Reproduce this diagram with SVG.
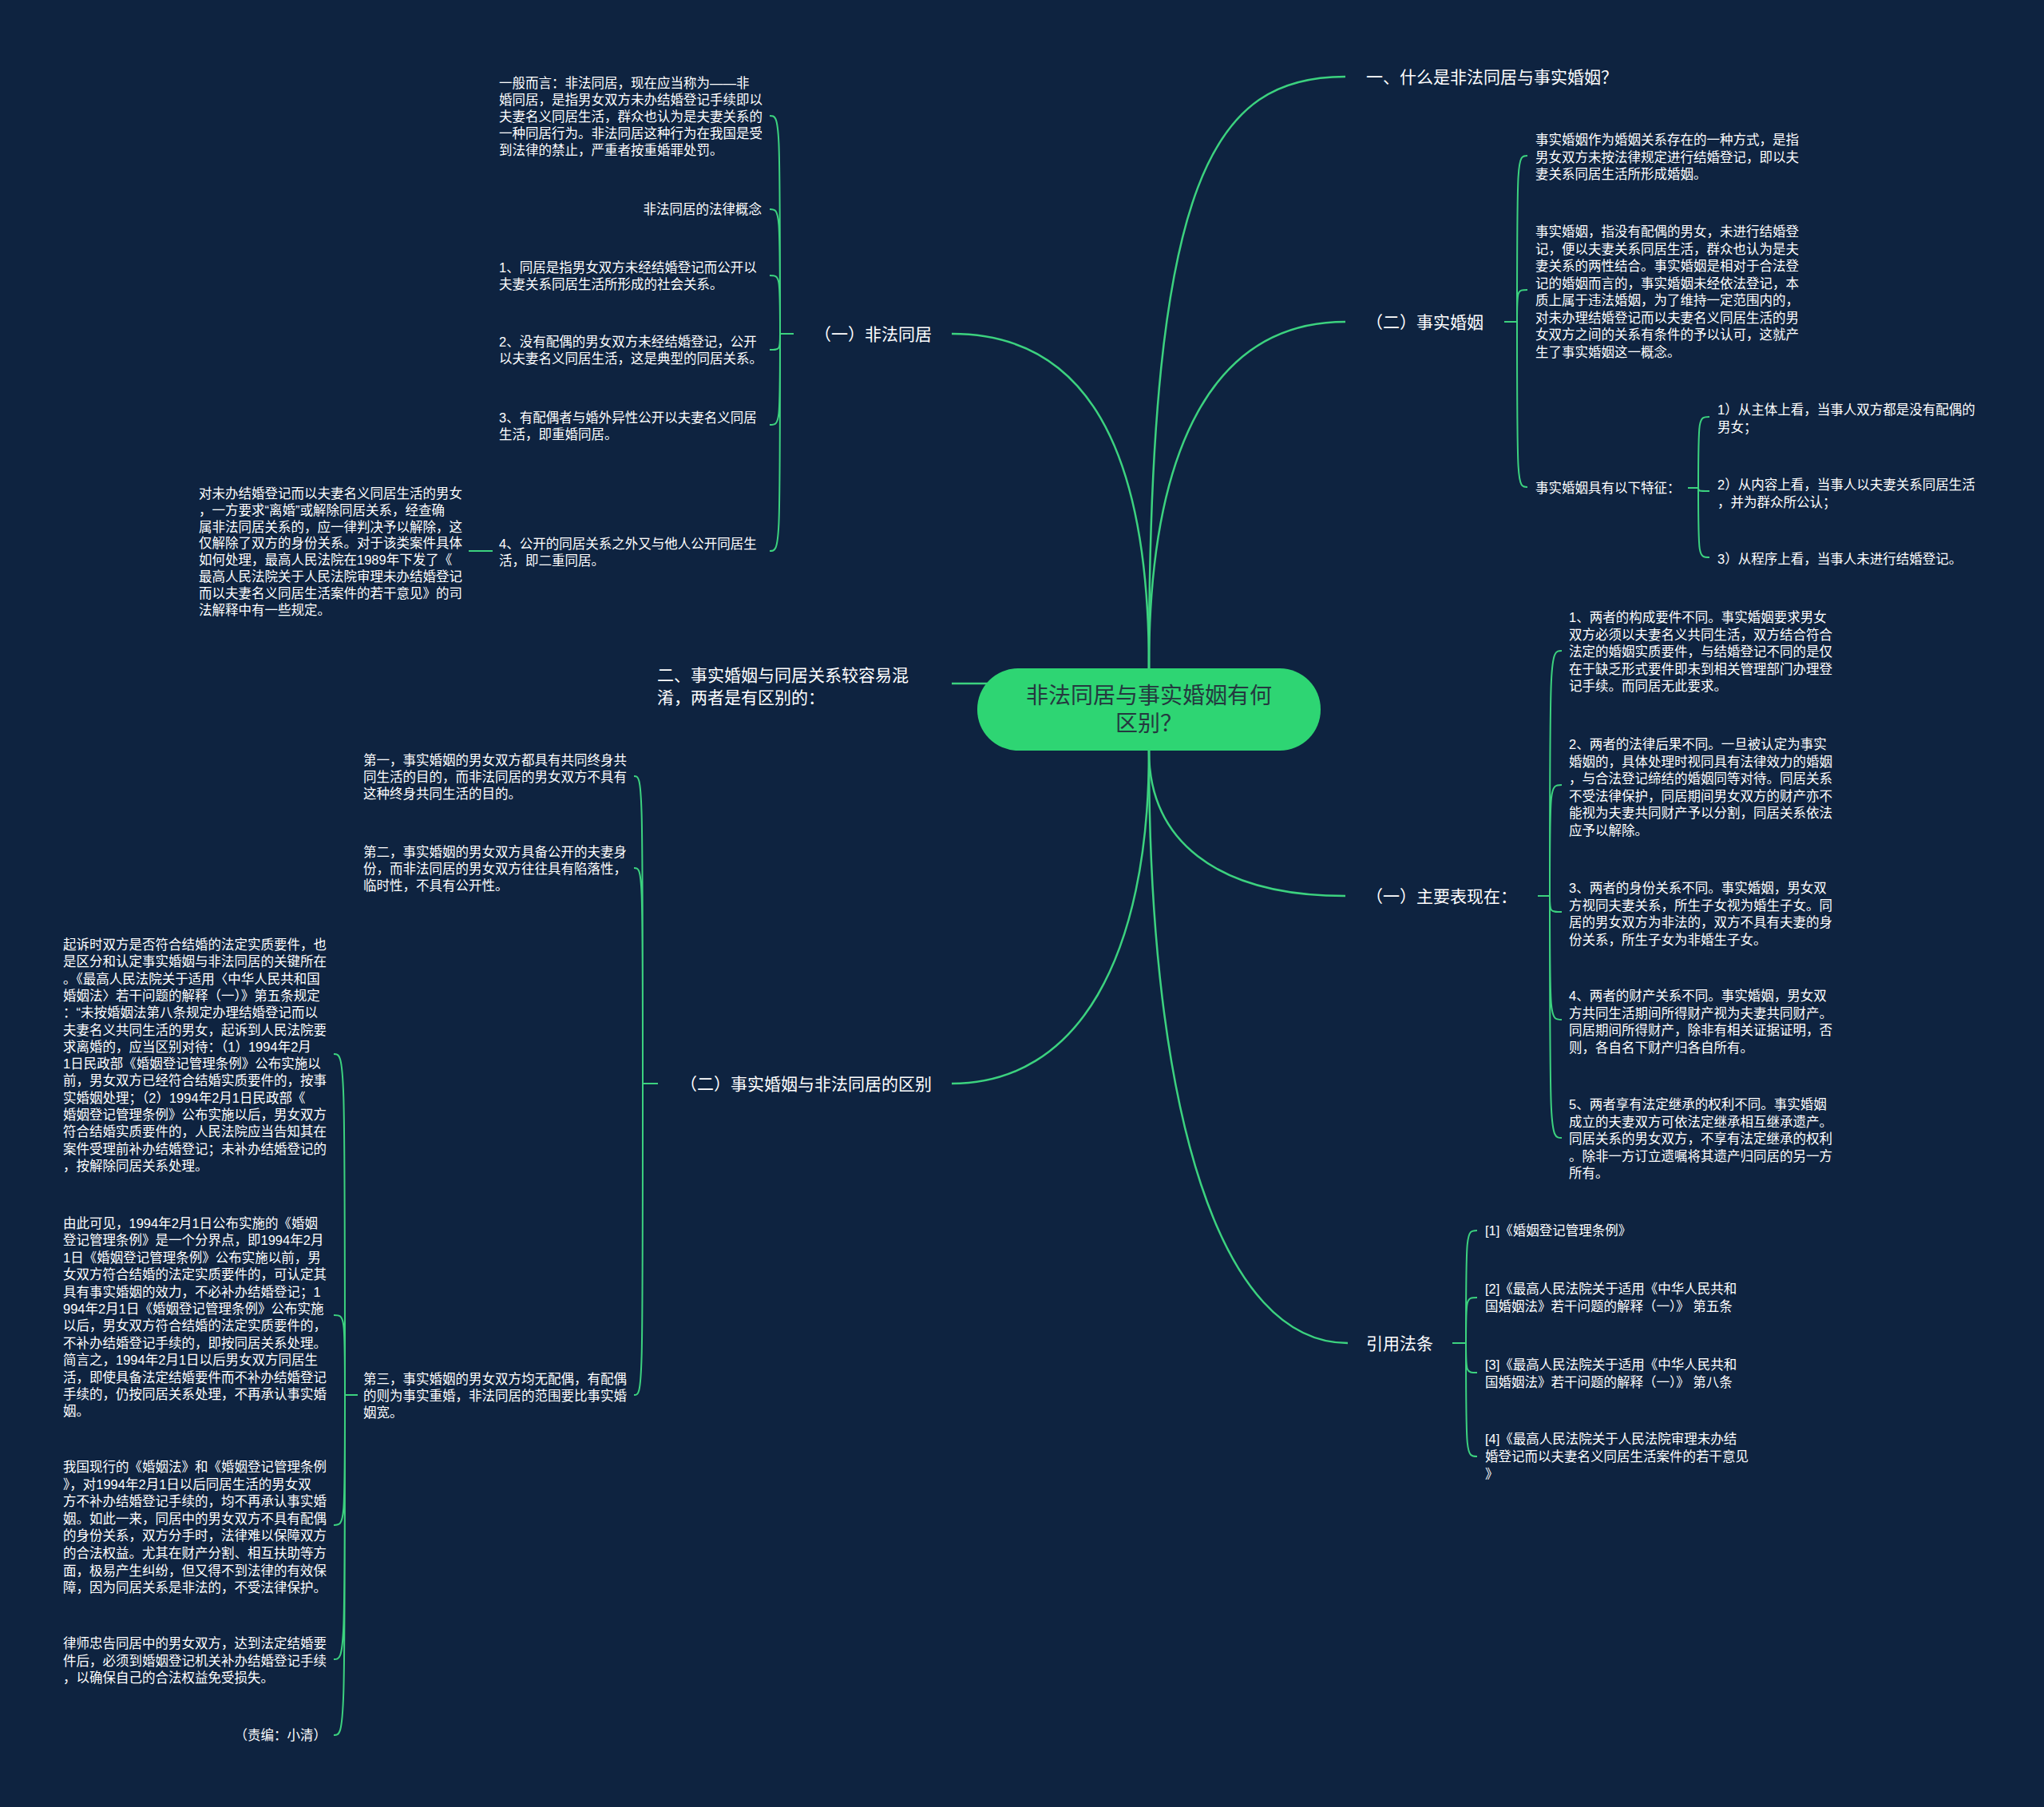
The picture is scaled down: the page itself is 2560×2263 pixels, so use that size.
<svg xmlns="http://www.w3.org/2000/svg" width="2560" height="2263" viewBox="0 0 2560 2263">
<style>
.t{font-family:"Liberation Sans","Noto Sans CJK SC",sans-serif;font-size:16.5px;fill:#ffffff}
.m{font-size:21px}
.c{font-family:"Liberation Sans","Noto Sans CJK SC",sans-serif;font-size:28px;fill:#24393f}
.ln{fill:none;stroke:#3cd27f;stroke-width:2}
.mn{fill:none;stroke:#3cd27f;stroke-width:2.5}
</style>
<rect width="2560" height="2263" fill="#0e2340"/>
<g id="connectors">
<path class="mn" d="M1439 837C1439 220 1520 96 1685 96"/>
<path class="mn" d="M1439 837C1439 560 1520 403 1685 403"/>
<path class="mn" d="M1439 837C1439 560 1360 418 1192 418"/>
<path class="mn" d="M1260 856H1192"/>
<path class="mn" d="M1439 940C1439 1050 1520 1122 1685 1122"/>
<path class="mn" d="M1439 940C1439 1400 1530 1682 1688 1682"/>
<path class="mn" d="M1439 940C1439 1200 1350 1357 1192 1357"/>
<path class="ln" d="M1884 403H1900M1900 403C1900 195 1900 195 1913 195M1900 403C1900 363 1900 363 1913 363M1900 403C1900 610 1900 610 1913 610"/>
<path class="ln" d="M2114 611H2127M2127 611C2127 522 2127 522 2141 522M2127 611C2127 615 2127 615 2141 615M2127 611C2127 698 2127 698 2141 698"/>
<path class="ln" d="M1926 1122H1941M1941 1122C1941 815 1941 815 1956 815M1941 1122C1941 983 1941 983 1956 983M1941 1122C1941 1142 1941 1142 1956 1142M1941 1122C1941 1277 1941 1277 1956 1277M1941 1122C1941 1425 1941 1425 1956 1425"/>
<path class="ln" d="M1819 1682H1836M1836 1682C1836 1541 1836 1541 1850 1541M1836 1682C1836 1625 1836 1625 1850 1625M1836 1682C1836 1719 1836 1719 1850 1719M1836 1682C1836 1824 1836 1824 1850 1824"/>
<path class="ln" d="M994 418H977M977 418C977 145 977 145 964 145M977 418C977 262 977 262 964 262M977 418C977 345 977 345 964 345M977 418C977 438 977 438 964 438M977 418C977 532 977 532 964 532M977 418C977 690 977 690 964 690"/>
<path class="ln" d="M617 690H587"/>
<path class="ln" d="M824 1357H805M805 1357C805 972 805 972 794 972M805 1357C805 1087 805 1087 794 1087M805 1357C805 1747 805 1747 794 1747"/>
<path class="ln" d="M448 1747H432M432 1747C432 1320 432 1320 418 1320M432 1747C432 1647 432 1647 418 1647M432 1747C432 1910 432 1910 418 1910M432 1747C432 2078 432 2078 418 2078M432 1747C432 2173 432 2173 418 2173"/>
</g>
<g id="center">
<rect x="1224" y="837" width="430" height="103" rx="51" fill="#2ed573"/>
<text class="c" text-anchor="middle"><tspan x="1439" y="881">非法同居与事实婚姻有何</tspan><tspan x="1439" y="916">区别？</tspan></text>
</g>
<g id="n-what"><text class="t m" x="1711" y="104">一、什么是非法同居与事实婚姻？</text></g>
<g id="n-shishi"><text class="t m" x="1711" y="411">（二）事实婚姻</text></g>
<g id="n-shishi-a"><text class="t"><tspan x="1923" y="181">事实婚姻作为婚姻关系存在的一种方式，是指</tspan><tspan x="1923" dy="21.5">男女双方未按法律规定进行结婚登记，即以夫</tspan><tspan x="1923" dy="21.5">妻关系同居生活所形成婚姻。</tspan></text></g>
<g id="n-shishi-b"><text class="t"><tspan x="1923" y="296">事实婚姻，指没有配偶的男女，未进行结婚登</tspan><tspan x="1923" dy="21.5">记，便以夫妻关系同居生活，群众也认为是夫</tspan><tspan x="1923" dy="21.5">妻关系的两性结合。事实婚姻是相对于合法登</tspan><tspan x="1923" dy="21.5">记的婚姻而言的，事实婚姻未经依法登记，本</tspan><tspan x="1923" dy="21.5">质上属于违法婚姻，为了维持一定范围内的，</tspan><tspan x="1923" dy="21.5">对未办理结婚登记而以夫妻名义同居生活的男</tspan><tspan x="1923" dy="21.5">女双方之间的关系有条件的予以认可，这就产</tspan><tspan x="1923" dy="21.5">生了事实婚姻这一概念。</tspan></text></g>
<g id="n-shishi-c"><text class="t" x="1923" y="617">事实婚姻具有以下特征：</text></g>
<g id="n-feat1"><text class="t"><tspan x="2151" y="519">1）从主体上看，当事人双方都是没有配偶的</tspan><tspan x="2151" dy="21.5">男女；</tspan></text></g>
<g id="n-feat2"><text class="t"><tspan x="2151" y="613">2）从内容上看，当事人以夫妻关系同居生活</tspan><tspan x="2151" dy="21.5">，并为群众所公认；</tspan></text></g>
<g id="n-feat3"><text class="t" x="2151" y="706">3）从程序上看，当事人未进行结婚登记。</text></g>
<g id="n-biaoxian"><text class="t m" x="1711" y="1130">（一）主要表现在：</text></g>
<g id="n-bx1"><text class="t"><tspan x="1965" y="779">1、两者的构成要件不同。事实婚姻要求男女</tspan><tspan x="1965" dy="21.5">双方必须以夫妻名义共同生活，双方结合符合</tspan><tspan x="1965" dy="21.5">法定的婚姻实质要件，与结婚登记不同的是仅</tspan><tspan x="1965" dy="21.5">在于缺乏形式要件即未到相关管理部门办理登</tspan><tspan x="1965" dy="21.5">记手续。而同居无此要求。</tspan></text></g>
<g id="n-bx2"><text class="t"><tspan x="1965" y="938">2、两者的法律后果不同。一旦被认定为事实</tspan><tspan x="1965" dy="21.5">婚姻的，具体处理时视同具有法律效力的婚姻</tspan><tspan x="1965" dy="21.5">，与合法登记缔结的婚姻同等对待。同居关系</tspan><tspan x="1965" dy="21.5">不受法律保护，同居期间男女双方的财产亦不</tspan><tspan x="1965" dy="21.5">能视为夫妻共同财产予以分割，同居关系依法</tspan><tspan x="1965" dy="21.5">应予以解除。</tspan></text></g>
<g id="n-bx3"><text class="t"><tspan x="1965" y="1118">3、两者的身份关系不同。事实婚姻，男女双</tspan><tspan x="1965" dy="21.5">方视同夫妻关系，所生子女视为婚生子女。同</tspan><tspan x="1965" dy="21.5">居的男女双方为非法的，双方不具有夫妻的身</tspan><tspan x="1965" dy="21.5">份关系，所生子女为非婚生子女。</tspan></text></g>
<g id="n-bx4"><text class="t"><tspan x="1965" y="1253">4、两者的财产关系不同。事实婚姻，男女双</tspan><tspan x="1965" dy="21.5">方共同生活期间所得财产视为夫妻共同财产。</tspan><tspan x="1965" dy="21.5">同居期间所得财产，除非有相关证据证明，否</tspan><tspan x="1965" dy="21.5">则，各自名下财产归各自所有。</tspan></text></g>
<g id="n-bx5"><text class="t"><tspan x="1965" y="1389">5、两者享有法定继承的权利不同。事实婚姻</tspan><tspan x="1965" dy="21.5">成立的夫妻双方可依法定继承相互继承遗产。</tspan><tspan x="1965" dy="21.5">同居关系的男女双方，不享有法定继承的权利</tspan><tspan x="1965" dy="21.5">。除非一方订立遗嘱将其遗产归同居的另一方</tspan><tspan x="1965" dy="21.5">所有。</tspan></text></g>
<g id="n-law"><text class="t m" x="1711" y="1690">引用法条</text></g>
<g id="n-law1"><text class="t" x="1860" y="1547">[1]《婚姻登记管理条例》</text></g>
<g id="n-law2"><text class="t"><tspan x="1860" y="1620">[2]《最高人民法院关于适用《中华人民共和</tspan><tspan x="1860" dy="22">国婚姻法》若干问题的解释（一）》 第五条</tspan></text></g>
<g id="n-law3"><text class="t"><tspan x="1860" y="1715">[3]《最高人民法院关于适用《中华人民共和</tspan><tspan x="1860" dy="22">国婚姻法》若干问题的解释（一）》 第八条</tspan></text></g>
<g id="n-law4"><text class="t"><tspan x="1860" y="1808">[4]《最高人民法院关于人民法院审理未办结</tspan><tspan x="1860" dy="22">婚登记而以夫妻名义同居生活案件的若干意见</tspan><tspan x="1860" dy="22">》</tspan></text></g>
<g id="n-feifa"><text class="t m" x="1167" y="426" text-anchor="end">（一）非法同居</text></g>
<g id="n-feifa-a"><text class="t"><tspan x="625" y="110">一般而言：非法同居，现在应当称为——非</tspan><tspan x="625" dy="21">婚同居，是指男女双方未办结婚登记手续即以</tspan><tspan x="625" dy="21">夫妻名义同居生活，群众也认为是夫妻关系的</tspan><tspan x="625" dy="21">一种同居行为。非法同居这种行为在我国是受</tspan><tspan x="625" dy="21">到法律的禁止，严重者按重婚罪处罚。</tspan></text></g>
<g id="n-feifa-b"><text class="t" x="954" y="268" text-anchor="end">非法同居的法律概念</text></g>
<g id="n-feifa-1"><text class="t"><tspan x="625" y="341">1、同居是指男女双方未经结婚登记而公开以</tspan><tspan x="625" dy="21">夫妻关系同居生活所形成的社会关系。</tspan></text></g>
<g id="n-feifa-2"><text class="t"><tspan x="625" y="434">2、没有配偶的男女双方未经结婚登记，公开</tspan><tspan x="625" dy="21">以夫妻名义同居生活，这是典型的同居关系。</tspan></text></g>
<g id="n-feifa-3"><text class="t"><tspan x="625" y="529">3、有配偶者与婚外异性公开以夫妻名义同居</tspan><tspan x="625" dy="21">生活，即重婚同居。</tspan></text></g>
<g id="n-feifa-4"><text class="t"><tspan x="625" y="687">4、公开的同居关系之外又与他人公开同居生</tspan><tspan x="625" dy="21">活，即二重同居。</tspan></text></g>
<g id="n-feifa-4a"><text class="t"><tspan x="249" y="624">对未办结婚登记而以夫妻名义同居生活的男女</tspan><tspan x="249" dy="20.8">，一方要求“离婚”或解除同居关系，经查确</tspan><tspan x="249" dy="20.8">属非法同居关系的，应一律判决予以解除，这</tspan><tspan x="249" dy="20.8">仅解除了双方的身份关系。对于该类案件具体</tspan><tspan x="249" dy="20.8">如何处理，最高人民法院在1989年下发了《</tspan><tspan x="249" dy="20.8">最高人民法院关于人民法院审理未办结婚登记</tspan><tspan x="249" dy="20.8">而以夫妻名义同居生活案件的若干意见》的司</tspan><tspan x="249" dy="20.8">法解释中有一些规定。</tspan></text></g>
<g id="n-hunxiao"><text class="t m"><tspan x="823" y="853">二、事实婚姻与同居关系较容易混</tspan><tspan x="823" dy="28">淆，两者是有区别的：</tspan></text></g>
<g id="n-qubie"><text class="t m" x="1167" y="1365" text-anchor="end">（二）事实婚姻与非法同居的区别</text></g>
<g id="n-qb1"><text class="t"><tspan x="455" y="958">第一，事实婚姻的男女双方都具有共同终身共</tspan><tspan x="455" dy="21">同生活的目的，而非法同居的男女双方不具有</tspan><tspan x="455" dy="21">这种终身共同生活的目的。</tspan></text></g>
<g id="n-qb2"><text class="t"><tspan x="455" y="1073">第二，事实婚姻的男女双方具备公开的夫妻身</tspan><tspan x="455" dy="21">份，而非法同居的男女双方往往具有陷落性，</tspan><tspan x="455" dy="21">临时性，不具有公开性。</tspan></text></g>
<g id="n-qb3"><text class="t"><tspan x="455" y="1733">第三，事实婚姻的男女双方均无配偶，有配偶</tspan><tspan x="455" dy="21">的则为事实重婚，非法同居的范围要比事实婚</tspan><tspan x="455" dy="21">姻宽。</tspan></text></g>
<g id="n-f1"><text class="t"><tspan x="79" y="1189">起诉时双方是否符合结婚的法定实质要件，也</tspan><tspan x="79" dy="21.3">是区分和认定事实婚姻与非法同居的关键所在</tspan><tspan x="79" dy="21.3">。《最高人民法院关于适用〈中华人民共和国</tspan><tspan x="79" dy="21.3">婚姻法〉若干问题的解释（一）》第五条规定</tspan><tspan x="79" dy="21.3">：“未按婚姻法第八条规定办理结婚登记而以</tspan><tspan x="79" dy="21.3">夫妻名义共同生活的男女，起诉到人民法院要</tspan><tspan x="79" dy="21.3">求离婚的，应当区别对待：（1）1994年2月</tspan><tspan x="79" dy="21.3">1日民政部《婚姻登记管理条例》公布实施以</tspan><tspan x="79" dy="21.3">前，男女双方已经符合结婚实质要件的，按事</tspan><tspan x="79" dy="21.3">实婚姻处理；（2）1994年2月1日民政部《</tspan><tspan x="79" dy="21.3">婚姻登记管理条例》公布实施以后，男女双方</tspan><tspan x="79" dy="21.3">符合结婚实质要件的，人民法院应当告知其在</tspan><tspan x="79" dy="21.3">案件受理前补办结婚登记；未补办结婚登记的</tspan><tspan x="79" dy="21.3">，按解除同居关系处理。</tspan></text></g>
<g id="n-f2"><text class="t"><tspan x="79" y="1538">由此可见，1994年2月1日公布实施的《婚姻</tspan><tspan x="79" dy="21.4">登记管理条例》是一个分界点，即1994年2月</tspan><tspan x="79" dy="21.4">1日《婚姻登记管理条例》公布实施以前，男</tspan><tspan x="79" dy="21.4">女双方符合结婚的法定实质要件的，可认定其</tspan><tspan x="79" dy="21.4">具有事实婚姻的效力，不必补办结婚登记；1</tspan><tspan x="79" dy="21.4">994年2月1日《婚姻登记管理条例》公布实施</tspan><tspan x="79" dy="21.4">以后，男女双方符合结婚的法定实质要件的，</tspan><tspan x="79" dy="21.4">不补办结婚登记手续的，即按同居关系处理。</tspan><tspan x="79" dy="21.4">简言之，1994年2月1日以后男女双方同居生</tspan><tspan x="79" dy="21.4">活，即使具备法定结婚要件而不补办结婚登记</tspan><tspan x="79" dy="21.4">手续的，仍按同居关系处理，不再承认事实婚</tspan><tspan x="79" dy="21.4">姻。</tspan></text></g>
<g id="n-f3"><text class="t"><tspan x="79" y="1843">我国现行的《婚姻法》和《婚姻登记管理条例</tspan><tspan x="79" dy="21.6">》，对1994年2月1日以后同居生活的男女双</tspan><tspan x="79" dy="21.6">方不补办结婚登记手续的，均不再承认事实婚</tspan><tspan x="79" dy="21.6">姻。如此一来，同居中的男女双方不具有配偶</tspan><tspan x="79" dy="21.6">的身份关系，双方分手时，法律难以保障双方</tspan><tspan x="79" dy="21.6">的合法权益。尤其在财产分割、相互扶助等方</tspan><tspan x="79" dy="21.6">面，极易产生纠纷，但又得不到法律的有效保</tspan><tspan x="79" dy="21.6">障，因为同居关系是非法的，不受法律保护。</tspan></text></g>
<g id="n-f4"><text class="t"><tspan x="79" y="2064">律师忠告同居中的男女双方，达到法定结婚要</tspan><tspan x="79" dy="21.6">件后，必须到婚姻登记机关补办结婚登记手续</tspan><tspan x="79" dy="21.6">，以确保自己的合法权益免受损失。</tspan></text></g>
<g id="n-f5"><text class="t" x="409" y="2179" text-anchor="end">（责编：小清）</text></g>
</svg>
